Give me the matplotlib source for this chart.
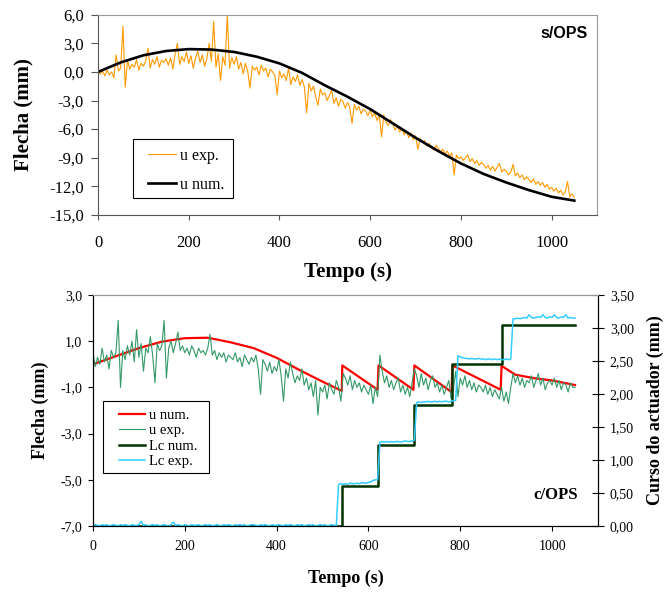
#recreate the two deflection graphs (s/OPS and c/OPS)

import numpy as np
import matplotlib
matplotlib.use("Agg")
import matplotlib.pyplot as plt
from matplotlib.ticker import FuncFormatter
from matplotlib.patches import Rectangle

plt.rcParams['font.family'] = ['Liberation Serif', 'DejaVu Serif']

#time base of the measured series (s)
t_exp = np.arange(0, 1051, 5)

#top graph: measured deflection (mm) without OPS
u_exp_top = [
    0.0, -0.2, 0.1, -0.4, 0.2, -0.3, 0.0, -0.6, 1.8, 0.1,
    0.4, 4.8, -1.6, 1.2, 0.3, 0.8, 0.5, 1.3, 0.2, 0.9,
    0.6, 1.1, 2.5, 0.4, 1.3, 0.8, 1.6, 0.5, 1.2, 1.0,
    1.4, 0.7, 1.5, 0.3, 1.9, 3.0, 0.8, 1.6, 1.1, 2.1,
    0.9, 1.7, 0.4, 1.5, 2.2, 1.0, 1.8, 0.6, 1.4, 3.0,
    1.1, 5.3, 0.5, 1.9, -0.9, 1.6, 0.7, 6.0, 0.4, 1.5,
    0.8, 1.6, 0.3, 1.0, -0.2, 0.9, 0.1, -1.7, 0.6, 0.2,
    0.5, -0.3, 0.7, 0.1, 0.4, -0.5, 0.3, 0.0, -0.4, -2.4,
    0.1, -0.6, -0.2, -0.9, 0.4, -1.3, -0.5, -1.0, -0.3, -1.4,
    -0.8, -1.6, -4.3, -1.2, -2.0, -1.5, -2.6, -3.5, -1.8, -2.4,
    -2.2, -3.0, -2.5, -1.9, -3.3, -2.7, -3.6, -2.9, -3.1, -3.8,
    -3.2, -3.7, -5.4, -3.4, -4.0, -3.6, -4.4, -3.9, -4.1, -4.6,
    -4.0, -4.7, -4.3, -5.1, -4.5, -6.8, -4.5, -5.3, -5.6, -5.0,
    -5.5, -6.1, -5.7, -6.3, -5.9, -6.6, -6.2, -6.9, -6.4, -7.1,
    -6.7, -8.1, -7.0, -7.4, -7.2, -7.8, -7.5, -7.9, -8.2, -7.7,
    -8.0, -8.4, -8.1, -8.6, -8.3, -8.8, -8.5, -10.8, -8.7, -9.1,
    -8.9, -9.3, -9.0, -8.7, -9.4, -9.1, -9.6, -9.3, -9.8, -9.5,
    -9.7, -10.1, -9.8, -10.3, -9.9, -10.4, -10.0, -9.6, -10.5, -10.2,
    -10.4, -10.8, -10.5, -9.7, -10.9, -10.6, -11.1, -10.8, -11.3, -11.0,
    -11.3, -11.6, -11.2, -11.8, -11.5, -11.9, -11.6, -12.1, -11.8, -12.3,
    -12.1, -12.5, -12.2, -12.7, -12.4, -12.9, -12.6, -11.5, -13.1, -12.8,
    -13.2]

#top graph: numerical deflection
t_num_top = [0, 50, 100, 150, 200, 250, 300, 350, 400, 450, 500,
             550, 600, 650, 700, 750, 800, 850, 900, 950, 1000, 1050]
u_num_top = [0.0, 1.0, 1.75, 2.2, 2.4, 2.35, 2.1, 1.6, 0.9, -0.1, -1.4,
             -2.6, -3.9, -5.4, -6.9, -8.3, -9.6, -10.7, -11.6, -12.4, -13.1, -13.5]

#bottom graph: numerical deflection with OPS (sawtooth after each actuator step)
t_num_bot = [0, 50, 100, 150, 200, 250, 300, 350, 400, 450, 500, 542,
             543, 620, 622, 698, 700, 781, 783, 888, 890, 920, 960, 1000, 1050]
u_num_bot = [0.0, 0.35, 0.7, 0.98, 1.13, 1.15, 0.95, 0.7, 0.28, -0.25, -0.75, -1.15,
             -0.05, -1.1, -0.05, -1.1, -0.05, -1.2, -0.05, -1.1, -0.07, -0.45, -0.6, -0.7, -0.9]

#bottom graph: measured deflection with OPS
u_exp_bot = [
    0.5, -0.1, 0.3, 0.0, 0.7, 0.1, 0.4, -0.2, 0.6, 0.3,
    0.5, 1.9, -1.0, 0.6, 0.2, 0.8, 0.4, 1.0, 0.1, 1.5,
    0.3, 0.9, -0.3, 0.7, 0.5, 1.2, 0.4, -0.8, 0.9, 0.6,
    0.8, 1.9, -0.6, 0.7, 1.0, 0.5, 0.9, 1.4, 0.6, 0.8,
    0.5, 0.7, 0.4, 0.8, 0.6, 0.3, 0.7, 0.5, 0.6, 0.4,
    0.7, 1.3, 0.4, 0.6, 0.2, 0.5, 0.3, 0.5, 0.1, 0.4,
    0.3, 0.2, 0.5, 0.1, 0.3, -0.1, 0.4, 0.2, 0.0, 0.3,
    0.1, 0.4, -0.2, -1.3, 0.2, 0.0, -0.3, 0.1, -0.4, -0.1,
    -0.3, 0.2, -0.5, -1.6, -0.2, -0.6, 0.1, -0.4, -0.8, -0.5,
    -0.7, -0.2, -0.9, -0.6, -1.1, -0.8, -1.4, -0.7, -2.2, -1.0,
    -1.2, -0.9, -1.5, -0.8, -1.1, -1.3, -0.7, -1.0, -1.6, -0.4,
    -0.6, -0.9, -0.5, -1.1, -0.7, -1.0, -0.8, -1.2, -0.9, -1.1,
    -1.3, -0.9, -1.7, -1.0, -1.4, 0.4, -0.3, -0.8, -0.5, -1.0,
    -0.7, -1.1, -0.8, -0.6, -1.2, -0.9, -1.3, -1.0, -1.4, -0.8,
    -0.2, -0.5, -1.0, -0.4, -0.9, -0.6, -1.1, -0.7, -0.5, -1.0,
    -0.8, -1.2, -0.9, -1.3, -1.0, -0.7, -1.5, -1.1, -0.3, -1.4,
    -0.6, -0.9, -0.5, -1.0, -0.7, -1.1, -0.8, -1.2, -0.9, -1.0,
    -1.2, -0.9, -1.3, -1.0, -1.4, -1.1, -1.3, -1.5, -1.0, -1.6,
    -1.2, -1.7, -1.0, -0.4, -0.8, -0.5, -0.9, -0.6, -1.0, -0.7,
    -0.8, -0.5, -1.0, -0.7, -0.4, -0.9, -0.6, -1.1, -0.8, -0.7,
    -0.9, -0.6, -1.0, -0.7, -1.1, -0.8, -0.9, -1.2, -0.8, -1.0,
    -1.0]

#actuator stroke (mm), numerical steps
t_lc_num = [0, 542, 620, 700, 783, 890, 1050]
lc_num = [0.0, 0.61, 1.22, 1.83, 2.45, 3.05, 3.05]

#actuator stroke (mm), measured
lc_exp = [
    0.01, 0.02, 0.01, 0.00, 0.02, 0.01, 0.02, 0.00, 0.01, 0.02,
    0.01, 0.00, 0.02, 0.01, 0.02, 0.01, 0.00, 0.02, 0.01, 0.01,
    0.02, 0.07, 0.01, 0.02, 0.00, 0.01, 0.02, 0.01, 0.02, 0.00,
    0.01, 0.02, 0.01, 0.00, 0.02, 0.06, 0.01, 0.02, 0.01, 0.00,
    0.02, 0.01, 0.00, 0.02, 0.01, 0.01, 0.02, 0.00, 0.01, 0.02,
    0.01, 0.02, 0.00, 0.01, 0.02, 0.01, 0.00, 0.02, 0.01, 0.02,
    0.01, 0.00, 0.02, 0.01, 0.02, 0.01, 0.02, 0.00, 0.01, 0.02,
    0.02, 0.01, 0.00, 0.02, 0.01, 0.02, 0.01, 0.00, 0.02, 0.01,
    0.01, 0.02, 0.01, 0.00, 0.02, 0.01, 0.02, 0.01, 0.00, 0.02,
    0.01, 0.02, 0.00, 0.01, 0.02, 0.01, 0.02, 0.00, 0.01, 0.02,
    0.01, 0.02, 0.00, 0.01, 0.02, 0.01, 0.01, 0.63, 0.64, 0.63,
    0.64, 0.63, 0.65, 0.64, 0.64, 0.65, 0.64, 0.66, 0.65, 0.65,
    0.66, 0.67, 0.69, 0.70, 0.70, 1.27, 1.28, 1.27, 1.28, 1.27,
    1.28, 1.27, 1.28, 1.28, 1.27, 1.28, 1.29, 1.28, 1.28, 1.29,
    1.30, 1.87, 1.88, 1.87, 1.88, 1.88, 1.89, 1.88, 1.88, 1.89,
    1.88, 1.89, 1.88, 1.89, 1.89, 1.88, 1.89, 1.90, 1.90, 2.58,
    2.56, 2.55, 2.54, 2.54, 2.53, 2.54, 2.53, 2.53, 2.54, 2.53,
    2.53, 2.52, 2.53, 2.53, 2.52, 2.53, 2.52, 2.53, 2.52, 2.52,
    2.53, 2.52, 2.53, 3.14, 3.14, 3.15, 3.14, 3.15, 3.16, 3.15,
    3.20, 3.16, 3.15, 3.16, 3.17, 3.16, 3.20, 3.16, 3.15, 3.17,
    3.16, 3.20, 3.16, 3.15, 3.17, 3.16, 3.20, 3.15, 3.16, 3.15,
    3.15]

x_ticks = [0, 200, 400, 600, 800, 1000]
top_yticks = [-15, -12, -9, -6, -3, 0, 3, 6]
bot_yticks = [-7, -5, -3, -1, 1, 3]
right_yticks = [0, 0.5, 1.0, 1.5, 2.0, 2.5, 3.0, 3.5]

comma1 = FuncFormatter(lambda v, p: ("%.1f" % v).replace(".", ","))
comma2 = FuncFormatter(lambda v, p: ("%.2f" % v).replace(".", ","))

fig = plt.figure(figsize=(6.64, 5.92), dpi=100)

#---- top graph ----
ax1 = fig.add_axes([0.1476, 0.637, 0.7515, 0.338])
ax1.plot(t_exp, u_exp_top, color="#FF9900", lw=0.8, label="u exp.")
ax1.plot(t_num_top, u_num_top, color="black", lw=1.9, label="u num.")
ax1.set_xlim(0, 1100)
ax1.set_ylim(-15, 6)
ax1.set_xticks(x_ticks)
ax1.set_yticks(top_yticks)
ax1.yaxis.set_major_formatter(comma1)
ax1.tick_params(axis="y", length=4.8, pad=5.5, labelsize=12, color="#555555")
ax1.tick_params(axis="x", length=3.6, pad=11, labelsize=12, color="#555555")
for s in ["top", "right"]:
    ax1.spines[s].set_color("#999999")
for s in ["left", "bottom"]:
    ax1.spines[s].set_color("#555555")
ax1.set_xlabel("Tempo (s)", fontsize=15, fontweight="bold")
ax1.xaxis.set_label_coords(0.5, -0.285)
ax1.xaxis.label.set_va("center")
ax1.set_ylabel("Flecha (mm)", fontsize=15, fontweight="bold")
ax1.yaxis.set_label_coords(-0.15, 0.5)
ax1.yaxis.label.set_va("center")
#legend frame drawn by hand so the entries can sit inset like the original
ax1.add_patch(Rectangle((0.0701, 0.085), 0.2004, 0.295, transform=ax1.transAxes,
                        facecolor="white", edgecolor="black", lw=0.8, zorder=5))
leg1 = ax1.legend(loc="upper left", bbox_to_anchor=(0.1002, 0.335), fontsize=11.5,
                  frameon=False, labelspacing=0.8, handlelength=1.75,
                  handletextpad=0.25, borderpad=0, borderaxespad=0)
leg1.set_zorder(6)
ax1.text(0.982, 0.905, "s/OPS", transform=ax1.transAxes, ha="right", va="center",
         fontsize=11.5, fontweight="bold", family="Liberation Sans")

#---- bottom graph ----
ax2 = fig.add_axes([0.140, 0.1115, 0.7606, 0.3902])
ax3 = ax2.twinx()
l1, = ax2.plot(t_num_bot, u_num_bot, color="#FF0000", lw=1.6, label="u num.")
l2, = ax2.plot(t_exp, u_exp_bot, color="#339966", lw=0.8, label="u exp.")
l3, = ax3.plot(t_lc_num, lc_num, color="#003300", lw=1.8, drawstyle="steps-post", label="Lc num.")
l4, = ax3.plot(t_exp, lc_exp, color="#33CCFF", lw=1.1, label="Lc exp.")
ax2.set_xlim(0, 1100)
ax2.set_ylim(-7, 3)
ax3.set_ylim(0, 3.5)
ax2.set_xticks(x_ticks)
ax2.set_yticks(bot_yticks)
ax3.set_yticks(right_yticks)
ax2.yaxis.set_major_formatter(comma1)
ax3.yaxis.set_major_formatter(comma2)
ax2.tick_params(axis="y", length=3.6, pad=4, labelsize=10)
ax2.tick_params(axis="x", length=3.6, pad=6.5, labelsize=10)
ax3.tick_params(axis="y", direction="inout", length=8, pad=4.5, labelsize=10)
ax2.spines["top"].set_color("#999999")
ax3.spines["top"].set_color("#999999")
ax2.set_xlabel("Tempo (s)", fontsize=13, fontweight="bold")
ax2.xaxis.set_label_coords(0.5, -0.225)
ax2.xaxis.label.set_va("center")
ax2.set_ylabel("Flecha (mm)", fontsize=13, fontweight="bold")
ax2.yaxis.set_label_coords(-0.105, 0.5)
ax2.yaxis.label.set_va("center")
ax3.set_ylabel("Curso do actuador (mm)", fontsize=13, fontweight="bold")
ax3.yaxis.set_label_coords(1.113, 0.5)
ax3.yaxis.label.set_va("center")
ax3.add_patch(Rectangle((0.019, 0.231), 0.211, 0.310, transform=ax3.transAxes,
                        facecolor="white", edgecolor="black", lw=0.8, zorder=5))
leg2 = ax3.legend(handles=[l1, l2, l3, l4], loc="upper left", bbox_to_anchor=(0.052, 0.508),
                  fontsize=10.5, frameon=False, labelspacing=0.15, handlelength=1.8,
                  handletextpad=0.27, borderpad=0, borderaxespad=0)
leg2.set_zorder(6)
ax2.text(0.96, 0.134, "c/OPS", transform=ax2.transAxes, ha="right", va="center",
         fontsize=12, fontweight="bold")

fig.savefig("out.png", dpi=100)
